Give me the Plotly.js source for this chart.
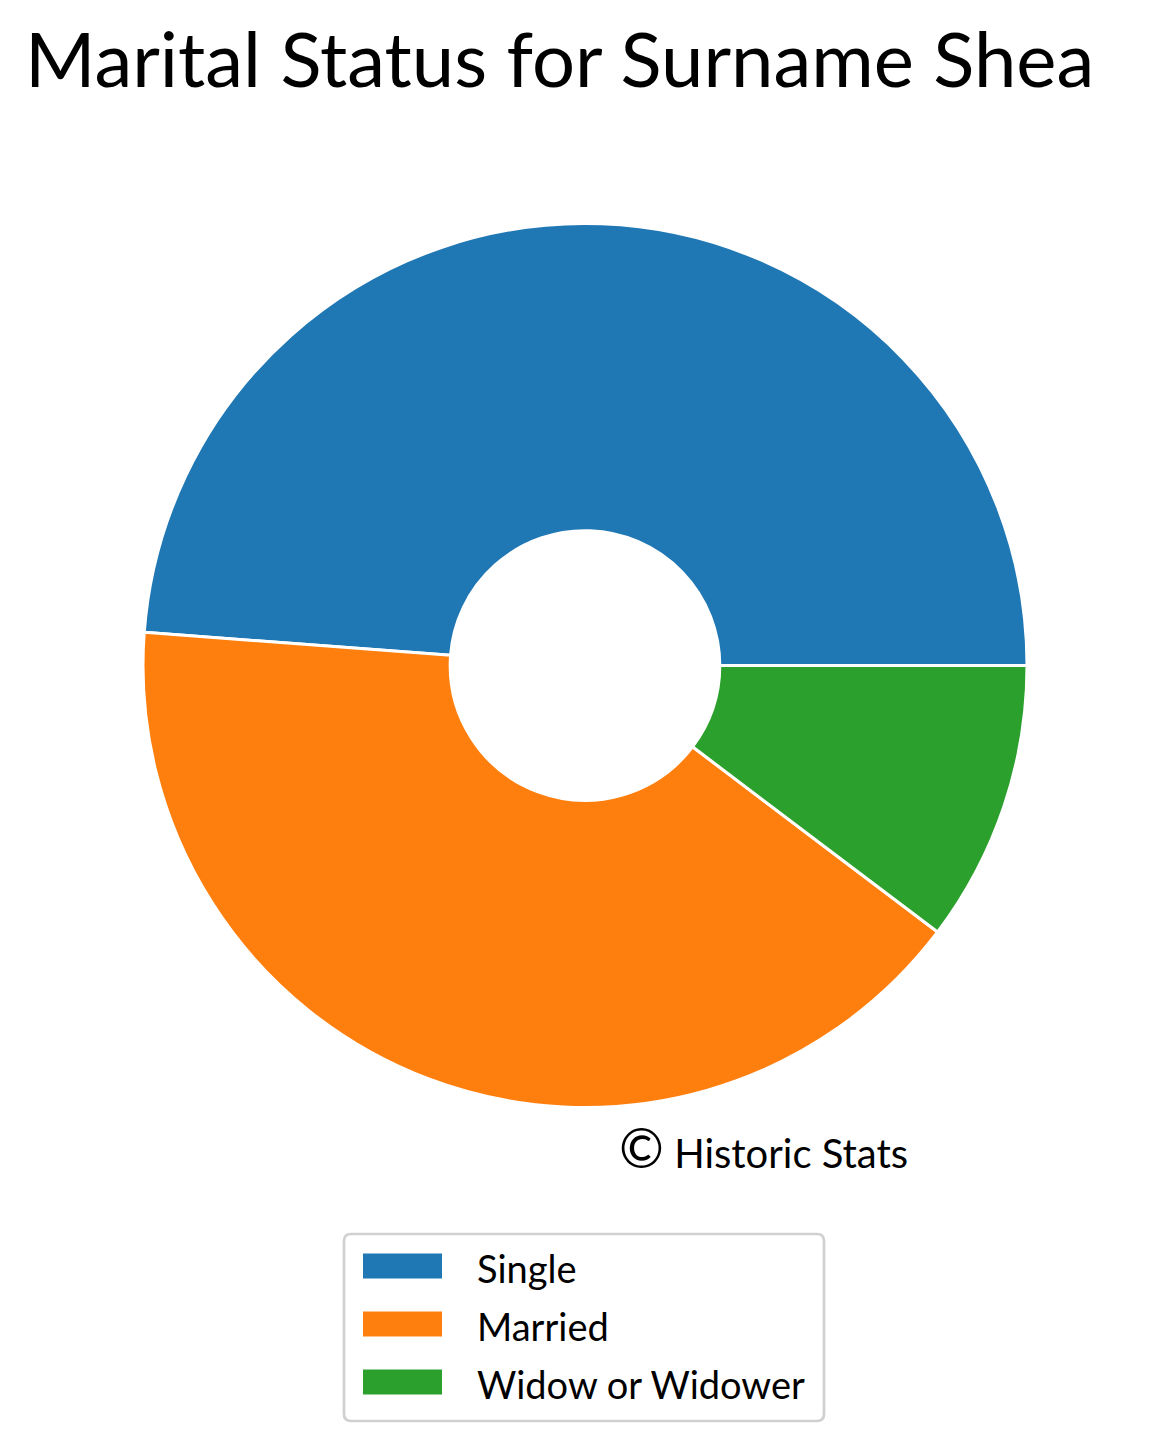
<!DOCTYPE html>
<html>
<head>
<meta charset="utf-8">
<script src="https://cdn.plot.ly/plotly-3.0.1.min.js"></script>
<style>
  html, body { margin: 0; padding: 0; background: #ffffff; }
  #chart { width: 1168px; height: 1452px; }
</style>
</head>
<body>
<div id="chart"></div>
<script>
// Marital status shares (percent) for the surname Shea
const categories = ["Single", "Married", "Widow or Widower"];
const shares = [48.8, 40.9, 10.3];
const sliceColors = ["#1f77b4", "#ff7f0e", "#2ca02c"];

const chartTitle = "Marital Status for Surname Shea";
const creditMark = "©";
const creditText = "Historic Stats";

const W = 1168, H = 1452;
const FONT = "Lato, 'DejaVu Sans', sans-serif";

// Counterclockwise pies in Plotly place the first slice so it ends at
// `rotation`; offset by the first slice so it starts at 3 o'clock instead.
const total = shares.reduce((a, b) => a + b, 0);
const startRotation = 90 - 360 * shares[0] / total;

const pie = {
  type: "pie",
  labels: categories,
  values: shares,
  sort: false,
  direction: "counterclockwise",
  rotation: startRotation,
  hole: 0.305,
  marker: { colors: sliceColors, line: { color: "#ffffff", width: 3 } },
  textinfo: "none",
  hoverinfo: "label+percent",
  showlegend: false,
  domain: {
    x: [(585 - 442) / W, (585 + 442) / W],
    y: [1 - 1107.5 / H, 1 - 223.5 / H]
  }
};

function px(x) { return x / W; }
function py(y) { return 1 - y / H; }

// Legend box built from the category list
const shapes = [];
const annotations = [];
(function () {
  const x0 = 344, x1 = 824, y0 = 1234, y1 = 1421, r = 7;
  const path = `M${px(x0 + r)},${py(y0)} L${px(x1 - r)},${py(y0)} Q${px(x1)},${py(y0)} ${px(x1)},${py(y0 + r)} ` +
    `L${px(x1)},${py(y1 - r)} Q${px(x1)},${py(y1)} ${px(x1 - r)},${py(y1)} ` +
    `L${px(x0 + r)},${py(y1)} Q${px(x0)},${py(y1)} ${px(x0)},${py(y1 - r)} ` +
    `L${px(x0)},${py(y0 + r)} Q${px(x0)},${py(y0)} ${px(x0 + r)},${py(y0)} Z`;
  shapes.push({ type: "path", xref: "paper", yref: "paper", path: path,
    line: { color: "#d0d0d0", width: 2.7 }, fillcolor: "rgba(255,255,255,0.8)" });
})();
categories.forEach((name, i) => {
  const cy = 1266 + i * 58;
  shapes.push({ type: "rect", xref: "paper", yref: "paper",
    x0: px(363), x1: px(442), y0: py(cy - 12.5), y1: py(cy + 12.5),
    fillcolor: sliceColors[i], line: { width: 0 } });
  annotations.push({ xref: "paper", yref: "paper", x: px(475), y: py(cy + 2),
    xanchor: "left", yanchor: "middle", showarrow: false, text: name,
    font: { family: FONT, size: 38, color: "#000000" } });
});

// Copyright credit under the ring
annotations.push({ xref: "paper", yref: "paper", x: px(617), y: py(1147),
  xanchor: "left", yanchor: "middle", showarrow: false,
  text: `<span style="font-size:54px">${creditMark}</span> ${creditText}`,
  font: { family: FONT, size: 40, color: "#000000" } });

const layout = {
  width: W, height: H,
  margin: { l: 0, r: 0, t: 0, b: 0 },
  paper_bgcolor: "#ffffff",
  title: {
    text: chartTitle,
    xref: "container", yref: "container",
    x: 25 / W, xanchor: "left",
    y: 1 - 60 / H, yanchor: "middle",
    font: { family: FONT, size: 76, color: "#000000" }
  },
  shapes: shapes,
  annotations: annotations
};

Plotly.newPlot("chart", [pie], layout, { displayModeBar: false, staticPlot: true });
</script>
</body>
</html>
